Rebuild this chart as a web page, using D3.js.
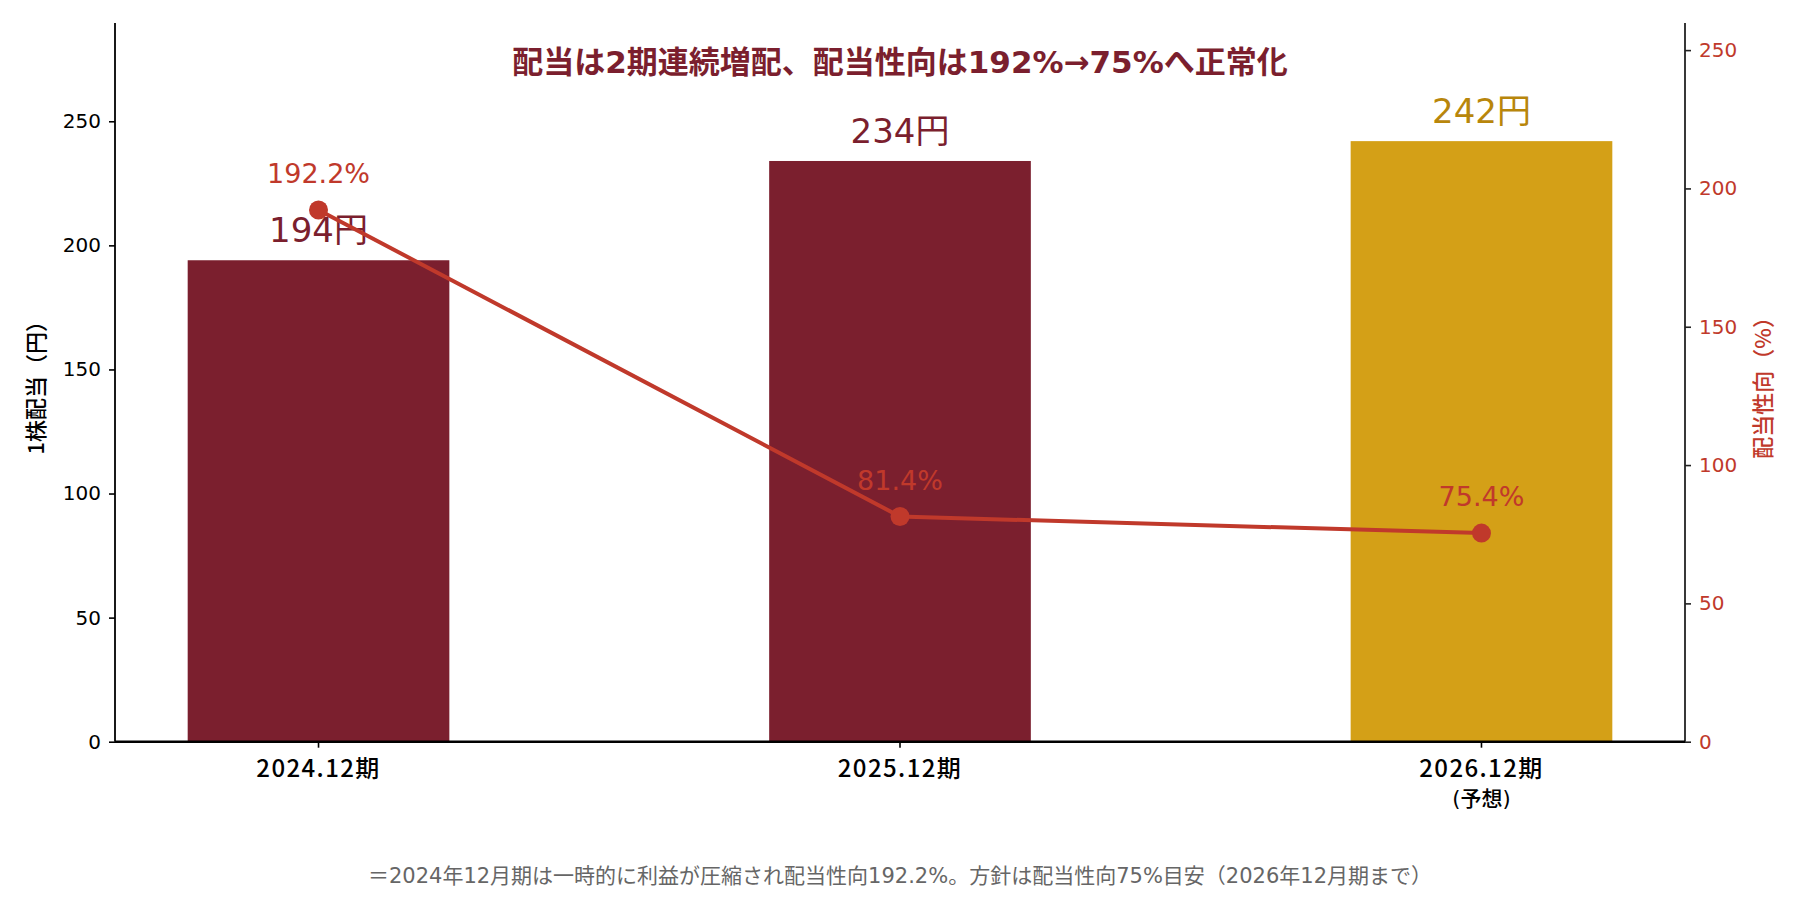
<!DOCTYPE html>
<html>
<head>
<meta charset="utf-8">
<script src="https://cdn.jsdelivr.net/npm/d3@7"></script>
<style>
  html, body { margin: 0; padding: 0; background: #fff; }
  svg { display: block; }
  text { font-family: "DejaVu Sans", "Noto Sans CJK JP", sans-serif; }
</style>
</head>
<body>
<svg id="chart" width="1800" height="900"></svg>
<script>
// ---- data ----
const categories = ["2024.12期", "2025.12期", "2026.12期"];
const categorySubLabels = ["", "", "(予想)"];
const dividends = [194, 234, 242];          // 1株配当（円）
const payoutRatios = [192.2, 81.4, 75.4];    // 配当性向（%）
const isForecast = [false, false, true];
const leftTicks = [0, 50, 100, 150, 200, 250];
const rightTicks = [0, 50, 100, 150, 200, 250];
const leftMax = 289.6;
const rightMax = 259.8;

const titleText = "配当は2期連続増配、配当性向は192%→75%へ正常化";
const leftLabel = "1株配当（円）";
const rightLabel = "配当性向（%）";
const footnote = "＝2024年12月期は一時的に利益が圧縮され配当性向192.2%。方針は配当性向75%目安（2026年12月期まで）";

// ---- style ----
const C = {
  bar: "#7B1F2E",
  barForecast: "#D4A017",
  labelForecast: "#B8860B",
  line: "#C0392B",
  title: "#7B1F2E",
  foot: "#666666"
};
const NOTO = '"Noto Sans CJK JP", "Noto Sans", sans-serif';

const svg = d3.select("#chart");
const plot = { left: 115, right: 1685, top: 23, bottom: 741.7 };

const x = d3.scaleBand()
  .domain(categories)
  .range([plot.left, plot.right])
  .paddingInner(0.55)
  .paddingOuter(0.125);

const yL = d3.scaleLinear().domain([0, leftMax]).range([plot.bottom, plot.top]);
const yR = d3.scaleLinear().domain([0, rightMax]).range([plot.bottom, plot.top]);

const rows = categories.map((c, i) => ({
  cat: c, sub: categorySubLabels[i], div: dividends[i], pr: payoutRatios[i], fc: isForecast[i]
}));
const cx = d => x(d.cat) + x.bandwidth() / 2;

// bars
svg.append("g").selectAll("rect").data(rows).join("rect")
  .attr("x", d => x(d.cat))
  .attr("y", d => yL(d.div))
  .attr("width", x.bandwidth())
  .attr("height", d => yL(0) - yL(d.div))
  .attr("fill", d => d.fc ? C.barForecast : C.bar);

// bar labels
svg.append("g").selectAll("text").data(rows).join("text")
  .attr("x", cx)
  .attr("y", d => yL(d.div) - 18)
  .attr("text-anchor", "middle")
  .attr("font-size", 34)
  .attr("fill", d => d.fc ? C.labelForecast : C.bar)
  .text(d => d.div + "円");

// axes
const axL = d3.axisLeft(yL).tickValues(leftTicks).tickSize(6).tickPadding(8);
const axR = d3.axisRight(yR).tickValues(rightTicks).tickSize(6).tickPadding(8);
const axB = d3.axisBottom(x).tickSize(6).tickFormat(() => "");

const gL = svg.append("g").attr("transform", `translate(${plot.left},0)`).call(axL);
gL.select(".domain").remove();
gL.selectAll("line").attr("stroke", "#000").attr("stroke-width", 1.6);
gL.selectAll("text").attr("font-size", 20).attr("fill", "#000")
  .style("font-family", '"DejaVu Sans", sans-serif');

const gR = svg.append("g").attr("transform", `translate(${plot.right},0)`).call(axR);
gR.select(".domain").remove();
gR.selectAll("line").attr("stroke", "#222").attr("stroke-width", 1.6);
gR.selectAll("text").attr("font-size", 20).attr("fill", C.line)
  .style("font-family", '"DejaVu Sans", sans-serif');

const gB = svg.append("g").attr("transform", `translate(0,${plot.bottom})`).call(axB);
gB.select(".domain").remove();
gB.selectAll("line").attr("stroke", "#000").attr("stroke-width", 1.6);

// spines
svg.append("line").attr("x1", plot.left).attr("x2", plot.left)
  .attr("y1", plot.top).attr("y2", plot.bottom).attr("stroke", "#000").attr("stroke-width", 1.8);
svg.append("line").attr("x1", plot.right).attr("x2", plot.right)
  .attr("y1", plot.top).attr("y2", plot.bottom).attr("stroke", "#222").attr("stroke-width", 1.8);
svg.append("line").attr("x1", plot.left).attr("x2", plot.right)
  .attr("y1", plot.bottom).attr("y2", plot.bottom).attr("stroke", "#000").attr("stroke-width", 2.4);

// x tick labels (main line + optional sub line as separate texts)
svg.append("g").selectAll("text").data(rows).join("text")
  .attr("x", cx)
  .attr("y", plot.bottom + 35)
  .attr("text-anchor", "middle")
  .attr("font-size", 24)
  .attr("font-weight", 500)
  .attr("letter-spacing", 1.4)
  .style("font-family", NOTO)
  .attr("fill", "#000")
  .text(d => d.cat);
svg.append("g").selectAll("text").data(rows.filter(d => d.sub)).join("text")
  .attr("x", cx)
  .attr("y", plot.bottom + 64)
  .attr("text-anchor", "middle")
  .attr("font-size", 21)
  .attr("font-weight", 500)
  .attr("fill", "#000")
  .text(d => d.sub);

// line
const line = d3.line().x(cx).y(d => yR(d.pr));
svg.append("path").datum(rows)
  .attr("d", line)
  .attr("fill", "none")
  .attr("stroke", C.line)
  .attr("stroke-width", 4);
svg.append("g").selectAll("circle").data(rows).join("circle")
  .attr("cx", cx)
  .attr("cy", d => yR(d.pr))
  .attr("r", 9.5)
  .attr("fill", C.line);

// line labels
svg.append("g").selectAll("text").data(rows).join("text")
  .attr("x", cx)
  .attr("y", d => yR(d.pr) - 27)
  .attr("text-anchor", "middle")
  .attr("font-size", 27)
  .attr("fill", C.line)
  .text(d => d.pr.toFixed(1) + "%");

// axis labels
svg.append("text")
  .attr("transform", `translate(44, ${(plot.top + plot.bottom) / 2}) rotate(-90)`)
  .attr("text-anchor", "middle")
  .attr("font-size", 22)
  .attr("font-weight", 500)
  .style("font-family", NOTO)
  .attr("fill", "#000")
  .text(leftLabel);
svg.append("text")
  .attr("transform", `translate(1771, ${(plot.top + plot.bottom) / 2}) rotate(-90)`)
  .attr("text-anchor", "middle")
  .attr("font-size", 22)
  .attr("font-weight", 500)
  .style("font-family", NOTO)
  .attr("fill", C.line)
  .text(rightLabel);

// title
svg.append("text")
  .attr("x", (plot.left + plot.right) / 2)
  .attr("y", 73)
  .attr("text-anchor", "middle")
  .attr("font-size", 31)
  .attr("font-weight", 700)
  .attr("fill", C.title)
  .text(titleText);

// footnote
svg.append("text")
  .attr("x", 900)
  .attr("y", 883)
  .attr("text-anchor", "middle")
  .attr("font-size", 21)
  .attr("fill", C.foot)
  .text(footnote);
</script>
</body>
</html>
